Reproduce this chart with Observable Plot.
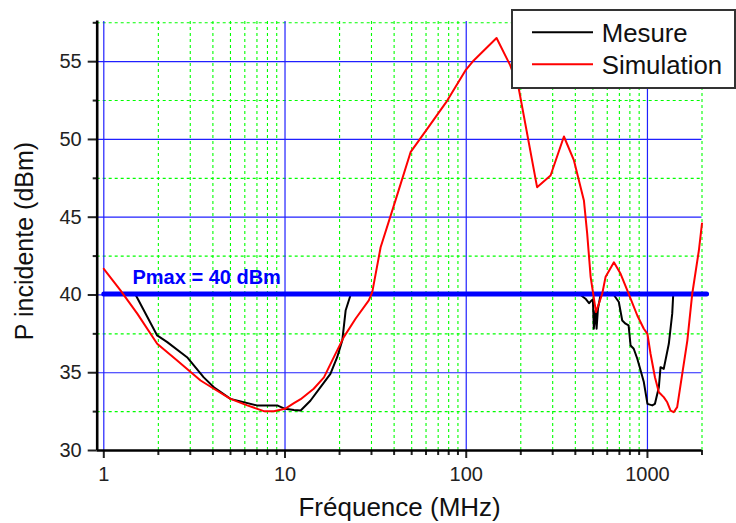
<!DOCTYPE html>
<html><head><meta charset="utf-8">
<script src="https://cdn.jsdelivr.net/npm/d3@7"></script>
<script src="https://cdn.jsdelivr.net/npm/@observablehq/plot@0.6"></script>
<style>
body{margin:0;background:#fff;}
#wrap{position:relative;width:736px;height:523px;font-family:"Liberation Sans",Arial,sans-serif;}
#legend{position:absolute;left:511px;top:9px;width:221px;height:76px;border:2px solid #333;background:#fff;}
</style></head><body><div id="wrap"></div>
<script>
// ---- data ----
const seriesNames = ["Mesure", "Simulation"];
const seriesColors = ["#000000", "#ff0000"];

const mesureFreq = [1, 1.5, 1.97, 2.24, 2.88, 3.56, 4.05, 5.0, 7.0, 9.06, 10, 11.2, 12.2, 13.8, 15.7, 17.8, 19.4, 20.7, 21.6, 23.0,
  418, 428, 455, 476, 492, 500, 506, 517, 524, 533, 551, 653, 695, 726, 757, 787, 807, 840, 879, 917, 955, 1000, 1063, 1100,
  1156, 1181, 1230, 1312, 1370, 1387, 2000];
const mesureP = [40, 40, 37.4, 36.97, 36.0, 34.7, 34.07, 33.32, 32.9, 32.9, 32.68, 32.6, 32.57, 33.2, 34.07, 34.93, 36.0, 37.07, 39.0, 40,
  40, 40, 39.76, 39.47, 39.65, 39.7, 37.83, 39.0, 37.83, 39.1, 40, 40, 39.55, 38.36, 38.15, 38.04, 36.75, 36.54, 35.9, 35.14, 34.4, 33.0, 32.9, 33.0,
  34.07, 35.36, 35.25, 36.86, 38.8, 40, 40];

const simFreq = [1, 1.236, 1.53, 1.97, 2.54, 3.42, 4.05, 5, 6.19, 7.64, 8.68, 10, 11.2, 12.2, 14.4, 16.4, 18.6, 21.1, 24.5, 29.0,
  30.3, 33.7, 40.7, 49.3, 60.9, 78.6, 99, 110, 147, 175, 195, 246, 292, 346, 393, 446, 465, 486, 520, 563, 587, 653, 711, 787,
  879, 955, 1000, 1040, 1100, 1156, 1230, 1286, 1341, 1396, 1459, 1556, 1660, 1767, 1922, 2000];
const simP = [41.68, 40.3, 38.8, 36.86, 35.79, 34.5, 33.97, 33.32, 32.9, 32.53, 32.53, 32.68, 33.04, 33.3, 33.97, 34.7, 36.0, 37.29, 38.47, 39.65,
  40.18, 43.07, 46.08, 49.18, 50.68, 52.5, 54.44, 55.08, 56.52, 54.76, 53.26, 46.93, 47.68, 50.19, 48.65, 46.08, 43.94, 41.15, 38.9, 40.08, 41.15, 42.1, 41.36, 40.08,
  38.68, 37.83, 37.5, 36.22, 34.71, 33.75, 33.43, 33.1, 32.57, 32.46, 32.79, 34.93, 37.07, 40.08, 42.86, 44.6];

const pmaxFreq = [1, 2120];
const pmaxValue = 40.06;
const pmaxLabel = "Pmax = 40 dBm";
const pmaxLabelFreq = 1.44;

const xMajor = [1, 10, 100, 1000];
const xMinor = [2,3,4,5,6,7,8,9,20,30,40,50,60,70,80,90,200,300,400,500,600,700,800,900,2000];
const yMajor = [30, 35, 40, 45, 50, 55];
const yMinor = [32.5, 37.5, 42.5, 47.5, 52.5, 57.5];
const xTitle = "Fréquence (MHz)";
const yTitle = "P incidente (dBm)";

// ---- build ----
const mesure = mesureFreq.map((f, i) => ({f, p: mesureP[i]}));
const sim = simFreq.map((f, i) => ({f, p: simP[i]}));
const pmax = pmaxFreq.map(f => ({f, p: pmaxValue}));

const font = "'Liberation Sans', Arial, sans-serif";
const chart = Plot.plot({
  width: 736, height: 523,
  marginLeft: 96.7, insetLeft: 6.6, marginRight: 34.5,
  marginTop: 21, insetTop: 1.3, marginBottom: 73,
  x: {type: "log", domain: [1, 2000], label: null},
  y: {domain: [30, 57.5], label: null},
  style: {fontFamily: font, fontSize: "20px", color: "#222", background: "white"},
  marks: [
    Plot.gridX({ticks: xMinor, stroke: "#00ff00", strokeOpacity: 1, strokeWidth: 1.1, strokeDasharray: "3,3"}),
    Plot.gridY({ticks: yMinor, stroke: "#00ff00", strokeOpacity: 1, strokeWidth: 1.1, strokeDasharray: "3,3"}),
    Plot.gridX({ticks: xMajor, stroke: "#2020ff", strokeOpacity: 1, strokeWidth: 1.2}),
    Plot.gridY({ticks: yMajor.filter(v => v > 30), stroke: "#2020ff", strokeOpacity: 1, strokeWidth: 1.2}),
    Plot.axisX({ticks: xMajor, tickSize: 8, tickPadding: 8.5, strokeWidth: 2, tickFormat: d => String(d), fontSize: 20, label: null}),
    Plot.axisX({ticks: xMinor, tickSize: 5, strokeWidth: 2, tickFormat: () => "", label: null}),
    Plot.axisY({ticks: yMajor, tickSize: 9, tickPadding: 6.5, strokeWidth: 2, fontSize: 20, label: null}),
    Plot.axisY({ticks: yMinor, tickSize: 4, strokeWidth: 2, tickFormat: () => "", label: null}),
    Plot.ruleY([30], {stroke: "black", strokeWidth: 2.6}),
    Plot.ruleX([1], {dx: -6.6, y1: 30, y2: 57.62, stroke: "black", strokeWidth: 2.6}),
    Plot.line(mesure, {x: "f", y: "p", stroke: seriesColors[0], strokeWidth: 2}),
    Plot.line(pmax, {x: "f", y: "p", stroke: "#0000ff", strokeWidth: 5}),
    Plot.line(sim, {x: "f", y: "p", stroke: seriesColors[1], strokeWidth: 2}),
    Plot.text([pmaxLabel], {x: pmaxLabelFreq, y: pmaxValue, dy: -10.5, text: d => d, textAnchor: "start", lineAnchor: "bottom",
      fill: "#0000ff", fontWeight: "bold", fontSize: 20}),
    Plot.text([xTitle], {frameAnchor: "bottom", dy: 65.5, text: d => d, textAnchor: "middle", lineAnchor: "bottom", fontSize: 26, fill: "#111"}),
    Plot.text([yTitle], {frameAnchor: "left", dx: -64.4, dy: 5, text: d => d, rotate: -90, textAnchor: "middle", lineAnchor: "bottom", fontSize: 25, fill: "#111"})
  ]
});

const wrap = document.getElementById("wrap");
wrap.appendChild(chart);

const legend = document.createElement("div");
legend.id = "legend";
let svg = `<svg width="221" height="76" xmlns="http://www.w3.org/2000/svg" style="font-family:${font}">`;
seriesNames.forEach((name, i) => {
  const y = 21.3 + i * 32;
  svg += `<line x1="19" x2="80" y1="${y}" y2="${y}" stroke="${seriesColors[i]}" stroke-width="2"/>`;
  svg += `<text x="88.7" y="${y + 9.2}" font-size="25.8" fill="#111">${name}</text>`;
});
svg += `</svg>`;
legend.innerHTML = svg;
wrap.appendChild(legend);
</script></body></html>
